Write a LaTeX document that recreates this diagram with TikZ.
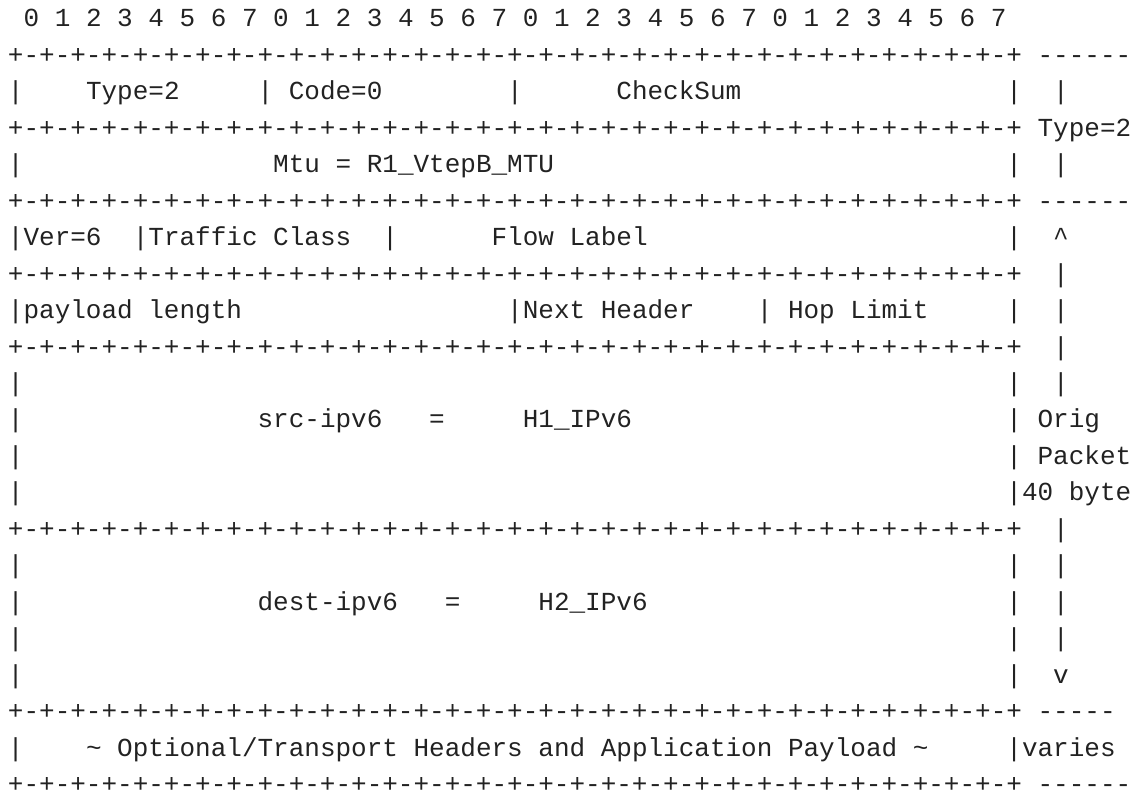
\documentclass[tikz,border=0pt]{standalone}
\usepackage{fontspec}
\setmonofont{Liberation Mono}
\definecolor{ink}{HTML}{222222}
\tikzset{tt/.style={font=\ttfamily\fontsize{26}{30}\selectfont, text=ink, inner sep=0pt, outer sep=0pt, anchor=base west}}
\newcommand{\tk}[4]{\node[tt] (#1) at ({8+#2*15.6},{-(27+(#3-1)*36.45)}) {#4};}
\newcommand{\gridrow}{+-+-+-+-+-+-+-+-+-+-+-+-+-+-+-+-+-+-+-+-+-+-+-+-+-+-+-+-+-+-+-+-+}
\begin{document}
\begin{tikzpicture}[x=1pt,y=1pt]
\useasboundingbox (0,0) rectangle (1138,-802);
% row 1
\tk{bits}{1}{1}{0 1 2 3 4 5 6 7 0 1 2 3 4 5 6 7 0 1 2 3 4 5 6 7 0 1 2 3 4 5 6 7}
% row 2
\tk{g2}{0}{2}{\gridrow}
\tk{d2}{66}{2}{------}
% row 3
\tk{r3a}{0}{3}{|}
\tk{r3b}{5}{3}{Type=2}
\tk{r3c}{16}{3}{| Code=0}
\tk{r3d}{32}{3}{|}
\tk{r3e}{39}{3}{CheckSum}
\tk{r3f}{64}{3}{|}
\tk{r3g}{67}{3}{|}
% row 4
\tk{g4}{0}{4}{\gridrow}
\tk{t4}{66}{4}{Type=2}
% row 5
\tk{r5a}{0}{5}{|}
\tk{r5b}{17}{5}{Mtu = R1\_VtepB\_MTU}
\tk{r5c}{64}{5}{|}
\tk{r5d}{67}{5}{|}
% row 6
\tk{g6}{0}{6}{\gridrow}
\tk{d6}{66}{6}{------}
% row 7
\tk{r7a}{0}{7}{|Ver=6}
\tk{r7b}{8}{7}{|Traffic Class}
\tk{r7c}{24}{7}{|}
\tk{r7d}{31}{7}{Flow Label}
\tk{r7e}{64}{7}{|}
\tk{r7f}{67}{7}{\textasciicircum}
% row 8
\tk{g8}{0}{8}{\gridrow}
\tk{v8}{67}{8}{|}
% row 9
\tk{r9a}{0}{9}{|payload length}
\tk{r9b}{32}{9}{|Next Header}
\tk{r9c}{48}{9}{| Hop Limit}
\tk{r9d}{64}{9}{|}
\tk{r9e}{67}{9}{|}
% row 10
\tk{g10}{0}{10}{\gridrow}
\tk{v10}{67}{10}{|}
% row 11
\tk{r11a}{0}{11}{|}
\tk{r11b}{64}{11}{|}
\tk{r11c}{67}{11}{|}
% row 12
\tk{r12a}{0}{12}{|}
\tk{r12b}{16}{12}{src-ipv6}
\tk{r12c}{27}{12}{=}
\tk{r12d}{33}{12}{H1\_IPv6}
\tk{r12e}{64}{12}{| Orig}
% row 13
\tk{r13a}{0}{13}{|}
\tk{r13b}{64}{13}{| Packet}
% row 14
\tk{r14a}{0}{14}{|}
\tk{r14b}{64}{14}{|40 byte}
% row 15
\tk{g15}{0}{15}{\gridrow}
\tk{v15}{67}{15}{|}
% row 16
\tk{r16a}{0}{16}{|}
\tk{r16b}{64}{16}{|}
\tk{r16c}{67}{16}{|}
% row 17
\tk{r17a}{0}{17}{|}
\tk{r17b}{16}{17}{dest-ipv6}
\tk{r17c}{28}{17}{=}
\tk{r17d}{34}{17}{H2\_IPv6}
\tk{r17e}{64}{17}{|}
\tk{r17f}{67}{17}{|}
% row 18
\tk{r18a}{0}{18}{|}
\tk{r18b}{64}{18}{|}
\tk{r18c}{67}{18}{|}
% row 19
\tk{r19a}{0}{19}{|}
\tk{r19b}{64}{19}{|}
\tk{r19c}{67}{19}{v}
% row 20
\tk{g20}{0}{20}{\gridrow}
\tk{d20}{66}{20}{-----}
% row 21
\tk{r21a}{0}{21}{|}
\tk{r21b}{5}{21}{\textasciitilde{} Optional/Transport Headers and Application Payload \textasciitilde}
\tk{r21c}{64}{21}{|varies}
% row 22
\tk{g22}{0}{22}{\gridrow}
\tk{d22}{66}{22}{------}
\end{tikzpicture}
\end{document}
